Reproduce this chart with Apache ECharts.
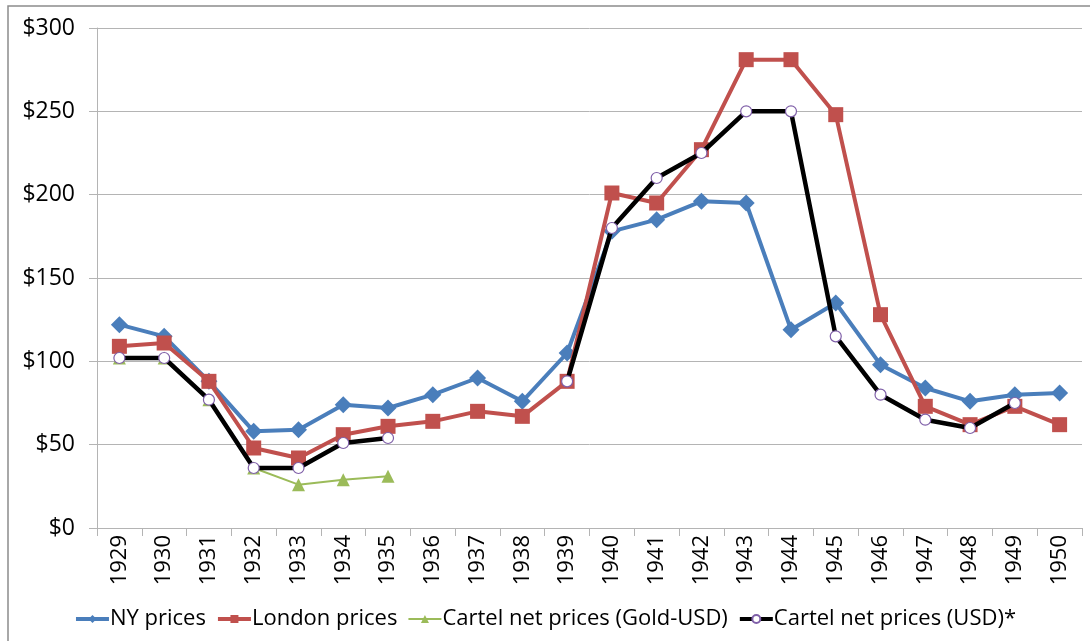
<!DOCTYPE html>
<html>
<head>
<meta charset="utf-8">
<script src="https://cdn.jsdelivr.net/npm/echarts@6/dist/echarts.min.js"></script>
<style>
  html, body { margin: 0; padding: 0; background: #fff; }
  #chart { width: 1090px; height: 641px; }
</style>
</head>
<body>
<div id="chart"></div>
<script>
const years = ['1929', '1930', '1931', '1932', '1933', '1934', '1935', '1936', '1937', '1938', '1939',
  '1940', '1941', '1942', '1943', '1944', '1945', '1946', '1947', '1948', '1949', '1950'];

const nyPrices = [122, 115, 88, 58, 59, 74, 72, 80, 90, 76, 105,
  178, 185, 196, 195, 119, 135, 98, 84, 76, 80, 81];

const londonPrices = [109, 111, 88, 48, 42, 56, 61, 64, 70, 67, 88,
  201, 195, 227, 281, 281, 248, 128, 73, 62, 73, 62];

const cartelGold = [102, 102, 77, 36, 26, 29, 31, null, null, null, null,
  null, null, null, null, null, null, null, null, null, null, null];

const cartelUsd = [102, 102, 77, 36, 36, 51, 54, null, null, null, 88,
  180, 210, 225, 250, 250, 115, 80, 65, 60, 75, null];

const font = 'Open Sans';
const gridGray = '#b4b4b4';

echarts.init(document.getElementById('chart')).setOption({
  animation: false,
  textStyle: {fontFamily: font, color: '#000'},
  graphic: [{
    type: 'rect',
    shape: {x: 8, y: 6, width: 1200, height: 800},
    style: {fill: 'none', stroke: '#8c8c8c', lineWidth: 1.5},
    silent: true
  }],
  grid: {left: 97, right: 8, top: 28, bottom: 113},
  xAxis: {
    type: 'category',
    data: years,
    boundaryGap: true,
    axisLine: {lineStyle: {color: gridGray}},
    axisTick: {show: true, length: 8, lineStyle: {color: gridGray}},
    axisLabel: {rotate: 90, fontSize: 22, color: '#000', margin: 7, fontFamily: font, interval: 0}
  },
  yAxis: {
    type: 'value',
    min: 0,
    max: 300,
    interval: 50,
    axisLine: {show: true, lineStyle: {color: gridGray}},
    axisTick: {show: true, length: 8, lineStyle: {color: gridGray}},
    splitLine: {lineStyle: {color: gridGray}},
    axisLabel: {formatter: '${value}', fontSize: 23, color: '#000', margin: 22, fontFamily: font}
  },
  legend: {
    top: 603,
    left: 'center',
    itemGap: 10,
    itemWidth: 33,
    itemHeight: 10,
    lineStyle: {width: 4},
    textStyle: {fontSize: 22, color: '#000', fontFamily: font, padding: [0, 0, 0, -4]},
    data: [
      'NY prices',
      'London prices',
      {name: 'Cartel net prices (Gold-USD)', lineStyle: {width: 2}},
      'Cartel net prices (USD)*'
    ]
  },
  series: [{
    name: 'NY prices',
    type: 'line',
    data: nyPrices,
    symbol: 'diamond',
    symbolSize: 17,
    lineStyle: {width: 4, color: '#4a7ebb'},
    itemStyle: {color: '#4a7ebb'},
    z: 2
  }, {
    name: 'London prices',
    type: 'line',
    data: londonPrices,
    symbol: 'rect',
    symbolSize: 15,
    lineStyle: {width: 4, color: '#c0504d'},
    itemStyle: {color: '#c0504d'},
    z: 3
  }, {
    name: 'Cartel net prices (Gold-USD)',
    type: 'line',
    data: cartelGold,
    symbol: 'triangle',
    symbolSize: 13,
    lineStyle: {width: 2, color: '#9bbb59'},
    itemStyle: {color: '#9bbb59'},
    z: 4
  }, {
    name: 'Cartel net prices (USD)*',
    type: 'line',
    data: cartelUsd,
    connectNulls: false,
    symbol: 'circle',
    symbolSize: 11,
    lineStyle: {width: 4.5, color: '#000'},
    itemStyle: {color: '#fff', borderColor: '#7f5fa8', borderWidth: 1.2},
    z: 5
  }]
});
</script>
</body>
</html>
